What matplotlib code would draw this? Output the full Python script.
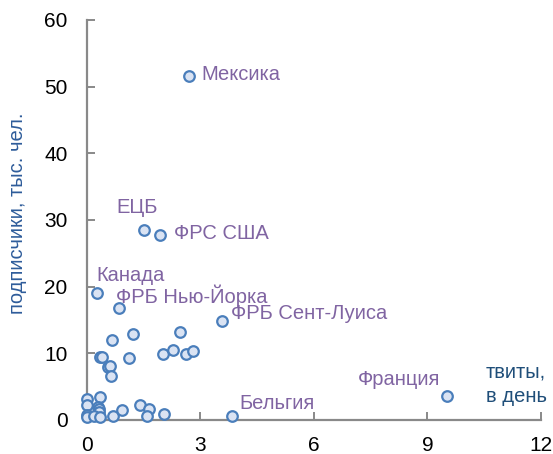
import matplotlib.pyplot as plt

plt.rcParams['font.family'] = ['Liberation Sans', 'DejaVu Sans']

# tweets per day vs followers (thousands)
tweets = [2.70, 1.51, 1.93, 0.26, 0.85, 3.57, 9.52, 3.84,
          1.22, 2.46, 0.67, 0.34, 0.40, 1.11, 2.02, 2.28, 2.61, 2.81,
          0.56, 0.61, 0.65,
          0.00, 0.00, 0.34, 0.30, 0.33, 0.31, 0.00, 0.00, 0.19, 0.34,
          0.68, 0.92, 1.40, 1.65, 1.59, 2.04]
followers = [51.6, 28.5, 27.7, 19.0, 16.8, 14.8, 3.6, 0.65,
             12.9, 13.2, 12.0, 9.4, 9.5, 9.3, 9.9, 10.5, 9.9, 10.4,
             7.9, 8.1, 6.6,
             3.1, 2.2, 3.5, 2.0, 1.65, 1.2, 0.8, 0.4, 0.6, 0.4,
             0.6, 1.5, 2.2, 1.6, 0.65, 0.9]

labels = ['Мексика', 'ЕЦБ', 'ФРС США', 'Канада', 'ФРБ Нью-Йорка',
          'ФРБ Сент-Луиса', 'Франция', 'Бельгия']
label_x = [3.04, 0.77, 2.30, 0.24, 0.77, 3.81, 7.16, 4.02]
label_y = [51.8, 31.8, 27.9, 21.7, 18.6, 16.0, 6.1, 2.4]

fig = plt.figure(figsize=(5.53, 4.54), dpi=100)
ax = fig.add_axes([0.157, 0.075, 0.821, 0.881])

ax.scatter(tweets, followers, s=58, facecolor='#dae3f3', edgecolor='#4a7ebb',
           linewidth=1.6, zorder=3, clip_on=False)

for t, x, y in zip(labels, label_x, label_y):
    ax.text(x, y, t, color='#8064a2', fontsize=14.5, ha='left', va='center')

ax.text(10.55, 5.4, 'твиты,\nв день', color='#1f4e79', fontsize=14.5,
        ha='left', va='center', linespacing=1.35)

ax.set_xlim(0, 12)
ax.set_ylim(0, 60)
ax.set_xticks([0, 3, 6, 9, 12])
ax.set_yticks(range(0, 61, 10))
fig.text(18 / 553, 1 - 213 / 454, 'подписчики, тыс. чел.', color='#2e5c9a',
         fontsize=14.5, rotation=90, ha='center', va='center')

for s in ['top', 'right']:
    ax.spines[s].set_visible(False)
for s in ['left', 'bottom']:
    ax.spines[s].set_color('#898989')
    ax.spines[s].set_linewidth(1.6)
ax.tick_params(direction='in', length=6, width=1.4, color='#898989',
               labelsize=15, labelcolor='black', pad=14)
ax.tick_params(axis='x', pad=11.5)

fig.savefig('out.png', dpi=100)
